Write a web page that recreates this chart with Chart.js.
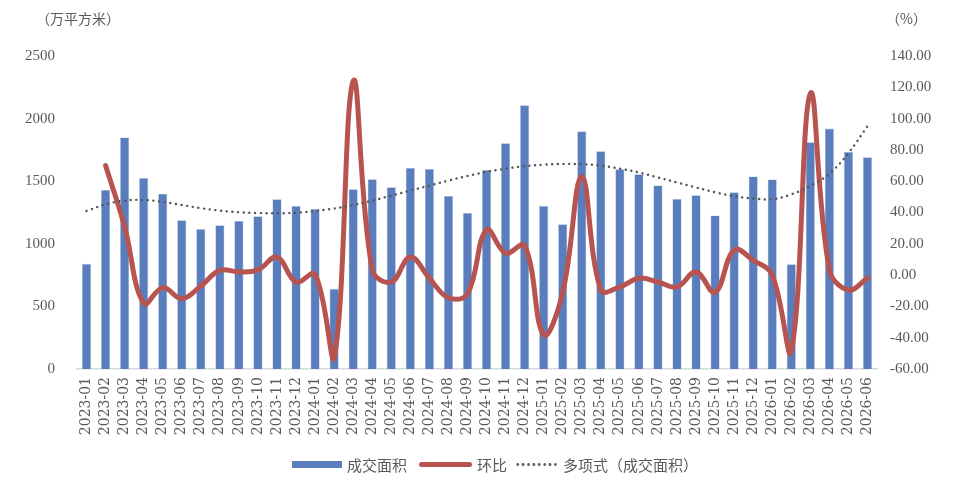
<!DOCTYPE html>
<html>
<head>
<meta charset="utf-8">
<script src="https://cdn.jsdelivr.net/npm/chart.js@4.4.1/dist/chart.umd.min.js"></script>
<style>
  body { margin: 0; background: #fff; }
  #wrap { position: relative; width: 960px; height: 484px; }
  .unit { position: absolute; top: 8px; font: 14px "Noto Sans CJK SC"; color: #595959; }
  #legend { position: absolute; top: 454px; left: 292px; display: flex; align-items: center;
            font: 15px "Noto Sans CJK SC"; color: #595959; white-space: nowrap; }
  .sw { display: inline-block; margin-right: 5px; }
</style>
</head>
<body>
<div id="wrap">
  <canvas id="myChart" width="960" height="484"></canvas>
  <div class="unit" style="left:36px">（万平方米）</div>
  <div class="unit" style="left:886px">（%）</div>
  <div id="legend">
    <span class="sw" style="width:50px;height:7px;background:#5a7ebd"></span><span style="margin-right:12px">成交面积</span>
    <span class="sw" style="width:53px;height:5px;border-radius:3px;background:#b85450"></span><span style="margin-right:8px">环比</span>
    <span class="sw" style="width:43px;height:5px;background:radial-gradient(circle,#595959 1.1px,transparent 1.6px) 0 0/5.4px 5px repeat-x"></span><span>多项式（成交面积）</span>
  </div>
</div>
<script>
// months 2023-01 .. 2026-06
var months = ['2023-01','2023-02','2023-03','2023-04','2023-05','2023-06','2023-07','2023-08','2023-09','2023-10','2023-11','2023-12',
              '2024-01','2024-02','2024-03','2024-04','2024-05','2024-06','2024-07','2024-08','2024-09','2024-10','2024-11','2024-12',
              '2025-01','2025-02','2025-03','2025-04','2025-05','2025-06','2025-07','2025-08','2025-09','2025-10','2025-11','2025-12',
              '2026-01','2026-02','2026-03','2026-04','2026-05','2026-06'];

// 成交面积 (万平方米)
var area = [840, 1430, 1850, 1525, 1400, 1188, 1118, 1148, 1182, 1220, 1356, 1302,
            1278, 640, 1436, 1516, 1452, 1606, 1598, 1382, 1246, 1590, 1804, 2107,
            1302, 1157, 1898, 1740, 1596, 1556, 1466, 1358, 1388, 1227, 1412, 1538,
            1514, 837, 1812, 1920, 1735, 1692];

// 环比 (%)
var mom = [null, 70, 31, -18, -8, -15, -7, 3, 2, 3.3, 11.5, -4.4,
           0.5, -53, 124, 3.5, -4.4, 11.5, -2, -14.5, -12, 29, 14, 19,
           -38, -11, 63, -9.5, -7.6, -2, -4.4, -7.6, 2, -11, 16, 9.5,
           0, -48.5, 116, 3.5, -9.5, -2];

// 多项式 (成交面积) trend
var trend = [1262, 1315, 1345, 1350, 1335, 1310, 1285, 1265, 1252, 1246, 1244, 1248,
             1262, 1282, 1310, 1345, 1385, 1425, 1465, 1505, 1542, 1575, 1600, 1620,
             1632, 1638, 1636, 1625, 1600, 1570, 1530, 1490, 1450, 1412, 1380, 1362,
             1356, 1395, 1462, 1560, 1725, 1940];

var leftTicks = [0, 500, 1000, 1500, 2000, 2500];
var rightTicks = [-60, -40, -20, 0, 20, 40, 60, 80, 100, 120, 140];

var tickColor = '#595959';

var ctx = document.getElementById('myChart');
var chart = new Chart(ctx, {
    type: 'bar',
    data: {
        labels: months,
        datasets: [{
            type: 'line',
            label: '多项式（成交面积）',
            data: trend,
            yAxisID: 'y',
            borderColor: '#555555',
            borderWidth: 2.4,
            borderDash: [0.1, 5.6],
            borderCapStyle: 'round',
            pointRadius: 0,
            tension: 0.4,
            order: 1
        }, {
            type: 'line',
            label: '环比',
            data: mom,
            yAxisID: 'y1',
            borderColor: '#b85450',
            borderWidth: 5,
            borderCapStyle: 'round',
            borderJoinStyle: 'round',
            pointRadius: 0,
            tension: 0.4,
            spanGaps: false,
            order: 2
        }, {
            label: '成交面积',
            data: area,
            yAxisID: 'y',
            backgroundColor: '#5a7ebd',
            borderColor: '#a9bde0',
            borderWidth: 0.6,
            barPercentage: 0.48,
            categoryPercentage: 1,
            order: 3
        }]
    },
    options: {
        responsive: false,
        animation: false,
        layout: { padding: { top: 56, left: 0, right: 0, bottom: 0 } },
        plugins: { legend: { display: false }, tooltip: { enabled: false } },
        scales: {
            x: {
                offset: true,
                grid: { display: false, drawTicks: false },
                border: { display: true, color: '#d9d9d9', width: 1.5 },
                ticks: { color: tickColor, font: { family: 'DejaVu Serif', size: 14 },
                         minRotation: 90, maxRotation: 90, autoSkip: false, padding: 8 },
                afterFit: function (s) { s.height = 115; }
            },
            y: {
                position: 'left',
                min: 0, max: 2500,
                grid: { display: false, drawTicks: false },
                border: { display: false },
                ticks: { color: tickColor, font: { family: 'Liberation Serif', size: 15 }, padding: 22,
                         callback: function (v) { return String(v); } },
                afterBuildTicks: function (s) { s.ticks = leftTicks.map(function (v) { return { value: v }; }); },
                afterFit: function (s) { s.width = 77; }
            },
            y1: {
                position: 'right',
                min: -60, max: 140,
                grid: { display: false, drawTicks: false },
                border: { display: false },
                ticks: { color: tickColor, font: { family: 'Liberation Serif', size: 15 }, padding: 13,
                         callback: function (v) { return v.toFixed(2); } },
                afterBuildTicks: function (s) { s.ticks = rightTicks.map(function (v) { return { value: v }; }); },
                afterFit: function (s) { s.width = 83; }
            }
        }
    }
});
</script>
</body>
</html>
